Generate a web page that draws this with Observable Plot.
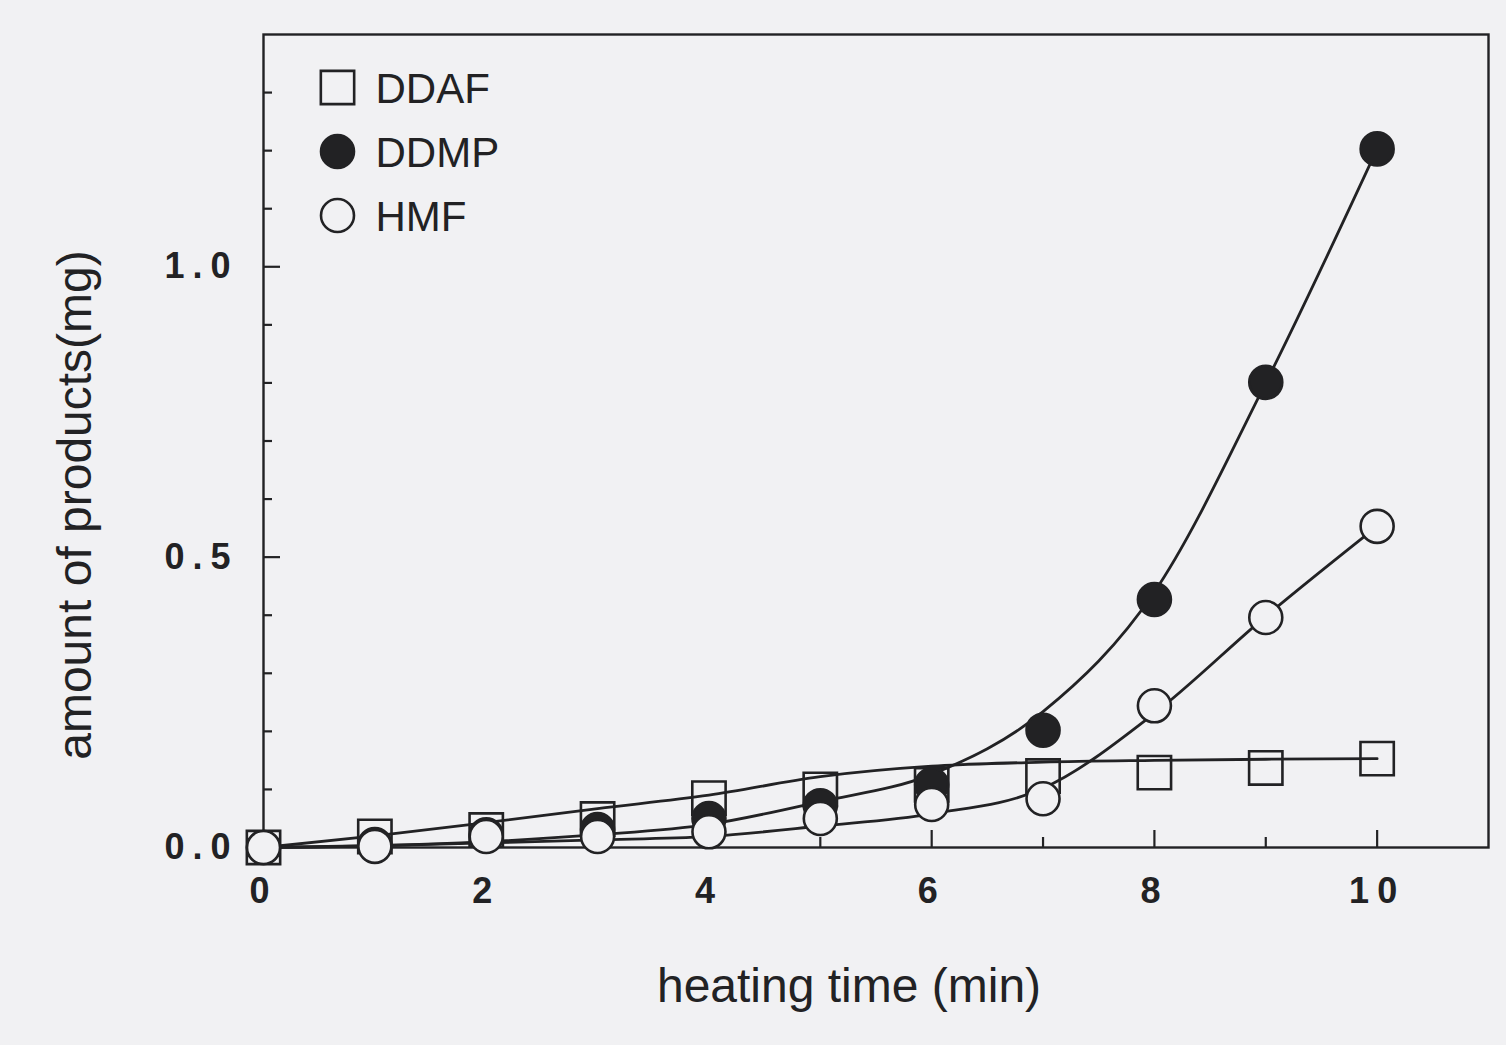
<!DOCTYPE html>
<html>
<head>
<meta charset="utf-8">
<script src="https://cdn.jsdelivr.net/npm/d3@7"></script>
<script src="https://cdn.jsdelivr.net/npm/@observablehq/plot@0.6"></script>
<style>
  html, body { margin: 0; padding: 0; background: #f1f1f3; }
  #chart svg g[aria-label^="x-axis"] text,
  #chart svg g[aria-label^="y-axis"] text { letter-spacing: 8px; }
</style>
</head>
<body>
<div id="chart"></div>
<script>
// Heating time (min)
const heatingTime = [0, 1, 2, 3, 4, 5, 6, 7, 8, 9, 10];

// Measured amounts (mg)
const ddaf = [0, 0.019, 0.030, 0.049, 0.085, 0.100, 0.108, 0.123, 0.129, 0.137, 0.153];
const ddmp = [0, 0.005, 0.022, 0.031, 0.050, 0.072, 0.108, 0.202, 0.427, 0.801, 1.203];
const hmf  = [0, 0.002, 0.019, 0.019, 0.027, 0.050, 0.074, 0.084, 0.244, 0.396, 0.553];

// Fitted curves through the measurements (mg)
const ddafFit = [0, 0.020, 0.043, 0.067, 0.090, 0.122, 0.140, 0.147, 0.150, 0.152, 0.153];
const ddmpFit = [0, 0.003, 0.010, 0.022, 0.040, 0.079, 0.126, 0.234, 0.440, 0.800, 1.203];
const hmfFit  = [0, 0.003, 0.008, 0.013, 0.019, 0.037, 0.058, 0.102, 0.231, 0.398, 0.553];

const seriesNames = ["DDAF", "DDMP", "HMF"];

// Axis ticks
const xLabelTicks = [0, 2, 4, 6, 8, 10];
const xMinorTicks = [1, 3, 5, 7, 9];
const yLabelTicks = [0, 0.5, 1.0];
const yMinorTicks = [0.1, 0.2, 0.3, 0.4, 0.6, 0.7, 0.8, 0.9, 1.1, 1.2, 1.3];

const ink = "#222224";
const paper = "#f1f1f3";

const W = 1506, H = 1045;
const mL = 263, mR = 18, mT = 34, mB = 198;
const innerW = W - mL - mR, innerH = H - mT - mB;

const measured = [ddaf, ddmp, hmf];
const fitted = [ddafFit, ddmpFit, hmfFit];

const points = seriesNames.flatMap((s, k) =>
  heatingTime.map((t, i) => ({series: s, t, v: measured[k][i]})));
const fitRows = seriesNames.flatMap((s, k) =>
  heatingTime.map((t, i) => ({series: s, t, v: fitted[k][i]})));

// marker look for each series
const markerStyle = {
  DDAF: {symbol: "square", r: 18.8, fill: "none", stroke: ink},
  DDMP: {symbol: "circle", r: 16.5, fill: ink, stroke: ink},
  HMF:  {symbol: "circle", r: 16.5, fill: paper, stroke: ink}
};

const marks = [
  Plot.frame({stroke: ink, strokeWidth: 2.4}),
  // inward ticks
  Plot.tickX(xLabelTicks, {x: d => d, insetTop: innerH - 17, stroke: ink, strokeWidth: 2.2}),
  Plot.tickX(xMinorTicks, {x: d => d, insetTop: innerH - 10, stroke: ink, strokeWidth: 2.2}),
  Plot.tickY(yLabelTicks, {y: d => d, insetRight: innerW - 17, stroke: ink, strokeWidth: 2.2}),
  Plot.tickY(yMinorTicks, {y: d => d, insetRight: innerW - 9, stroke: ink, strokeWidth: 2.2}),
  // fitted curves
  Plot.line(fitRows, {x: "t", y: "v", z: "series", curve: "monotone-x", stroke: ink, strokeWidth: 2.8})
];

// measured points: squares, then filled circles, then open circles on top
for (const s of seriesNames) {
  const m = markerStyle[s];
  marks.push(Plot.dot(points.filter(d => d.series === s), {
    x: "t", y: "v", symbol: m.symbol, r: m.r, fill: m.fill, stroke: m.stroke, strokeWidth: 2.6
  }));
}

// legend inside the frame
seriesNames.forEach((s, i) => {
  const m = markerStyle[s];
  marks.push(
    Plot.dot([s], {frameAnchor: "top-left", dx: 74, dy: 53 + i * 64,
      symbol: m.symbol, r: m.r, fill: m.fill, stroke: m.stroke, strokeWidth: 2.6}),
    Plot.text([s], {frameAnchor: "top-left", dx: 112, dy: 55 + i * 64, text: d => d,
      textAnchor: "start", lineAnchor: "middle", fontSize: 42, fontWeight: "normal", fill: ink})
  );
});

// axis titles
marks.push(
  Plot.text(["heating time (min)"], {frameAnchor: "bottom", dx: -27, dy: 139, text: d => d,
    textAnchor: "middle", lineAnchor: "middle", fontSize: 48, fontWeight: "normal", fill: ink}),
  Plot.text(["amount of products(mg)"], {frameAnchor: "left", dx: -188, dy: 64, rotate: -90, text: d => d,
    textAnchor: "middle", lineAnchor: "middle", fontSize: 48, fontWeight: "normal", fill: ink})
);

const chart = Plot.plot({
  width: W,
  height: H,
  marginLeft: mL,
  marginRight: mR,
  marginTop: mT,
  marginBottom: mB,
  style: {
    background: paper,
    color: ink,
    fontFamily: "'Liberation Sans', Arial, Helvetica, sans-serif",
    fontSize: "36px",
    fontWeight: "bold"
  },
  x: {domain: [0, 11], ticks: xLabelTicks, tickSize: 0, tickPadding: 30, label: null, tickFormat: d3.format("d")},
  y: {domain: [0, 1.4], ticks: yLabelTicks, tickSize: 0, tickPadding: 25, label: null, tickFormat: d3.format(".1f")},
  marks
});

document.getElementById("chart").appendChild(chart);
</script>
</body>
</html>
